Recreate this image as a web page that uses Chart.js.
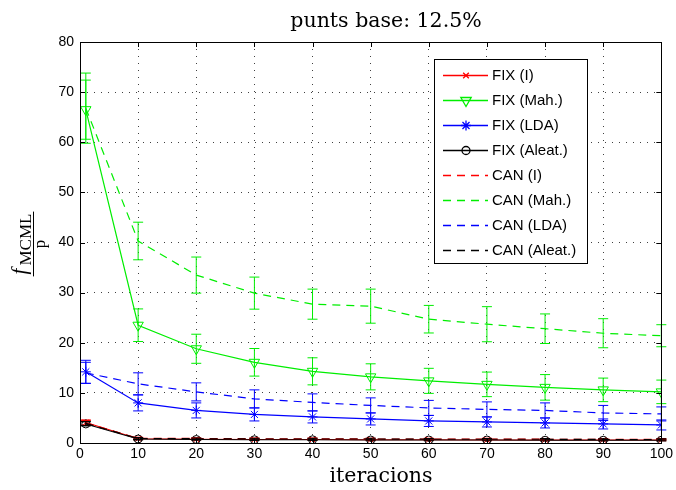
<!DOCTYPE html>
<html>
<head>
<meta charset="utf-8">
<script src="https://cdn.jsdelivr.net/npm/chart.js@4.4.1/dist/chart.umd.min.js"></script>
<style>
    body { margin: 0; background: #fff; }
    #wrap { width: 676px; height: 490px; position: relative; }
</style>
</head>
<body>
<div id="wrap"><canvas id="chart"></canvas></div>
<script>
// iterations on the x axis
const iters = [1, 10, 20, 30, 40, 50, 60, 70, 80, 90, 100];
const xTicks = [0, 10, 20, 30, 40, 50, 60, 70, 80, 90, 100];
const yTicks = [0, 10, 20, 30, 40, 50, 60, 70, 80];

// series values (mean) and error (half bar)
const fixI = [4.1, 0.85, 0.75, 0.7, 0.7, 0.65, 0.65, 0.6, 0.6, 0.6, 0.6];
const fixIErr = [0.5, 0.2, 0.15, 0.15, 0.15, 0.15, 0.15, 0.15, 0.15, 0.15, 0.15];
const fixMah = [66.5, 23.5, 18.8, 16.1, 14.3, 13.2, 12.4, 11.7, 11.1, 10.6, 10.2];
const fixMahErr = [5.9, 3.25, 2.9, 2.75, 2.7, 2.6, 2.5, 2.45, 2.55, 2.35, 2.35];
const fixLDA = [14.2, 8.0, 6.5, 5.7, 5.2, 4.8, 4.4, 4.2, 4.0, 3.8, 3.6];
const fixLDAErr = [2.3, 1.6, 1.5, 1.3, 1.2, 1.2, 1.1, 1.0, 1.0, 1.0, 1.0];
const fixAleat = [3.8, 0.8, 0.7, 0.65, 0.65, 0.6, 0.6, 0.6, 0.55, 0.55, 0.55];
const fixAleatErr = [0.4, 0.2, 0.15, 0.15, 0.15, 0.15, 0.15, 0.15, 0.15, 0.15, 0.15];
const canI = [4.0, 0.95, 0.9, 0.85, 0.85, 0.8, 0.8, 0.8, 0.75, 0.75, 0.75];
const canIErr = [0.5, 0.2, 0.15, 0.15, 0.15, 0.15, 0.15, 0.15, 0.15, 0.15, 0.15];
const canMah = [66.8, 40.3, 33.5, 29.9, 27.7, 27.3, 24.7, 23.7, 22.8, 21.9, 21.4];
const canMahErr = [7.0, 3.75, 3.6, 3.2, 3.0, 3.4, 2.75, 3.5, 2.95, 2.9, 2.2];
const canLDA = [14.0, 11.8, 10.2, 8.8, 8.1, 7.5, 7.0, 6.7, 6.5, 6.0, 5.8];
const canLDAErr = [2.1, 2.2, 1.8, 1.8, 1.7, 1.5, 1.5, 1.5, 1.5, 1.5, 1.4];
const canAleat = [3.9, 0.9, 0.85, 0.8, 0.8, 0.8, 0.75, 0.75, 0.75, 0.7, 0.7];
const canAleatErr = [0.4, 0.2, 0.15, 0.15, 0.15, 0.15, 0.15, 0.15, 0.15, 0.15, 0.15];

const series = [
    { label: 'FIX (I)', values: fixI, err: fixIErr, color: '#ff0000', dash: [], style: 'crossRot', radius: 4, rotation: 0 },
    { label: 'FIX (Mah.)', values: fixMah, err: fixMahErr, color: '#00ee00', dash: [], style: 'triangle', radius: 6, rotation: 180 },
    { label: 'FIX (LDA)', values: fixLDA, err: fixLDAErr, color: '#0000ff', dash: [], style: 'star', radius: 5, rotation: 0 },
    { label: 'FIX (Aleat.)', values: fixAleat, err: fixAleatErr, color: '#000000', dash: [], style: 'circle', radius: 4, rotation: 0 },
    { label: 'CAN (I)', values: canI, err: canIErr, color: '#ff0000', dash: [8, 6], style: false, radius: 0, rotation: 0 },
    { label: 'CAN (Mah.)', values: canMah, err: canMahErr, color: '#00ee00', dash: [8, 6], style: false, radius: 0, rotation: 0 },
    { label: 'CAN (LDA)', values: canLDA, err: canLDAErr, color: '#0000ff', dash: [8, 6], style: false, radius: 0, rotation: 0 },
    { label: 'CAN (Aleat.)', values: canAleat, err: canAleatErr, color: '#000000', dash: [8, 6], style: false, radius: 0, rotation: 0 }
];

// error bars drawn right after each dataset
const errorBars = {
    id: 'errorBars',
    afterDatasetDraw(chart, args) {
        const s = series[args.index];
        const ctx = chart.ctx;
        const xs = chart.scales.x, ys = chart.scales.y;
        ctx.save();
        ctx.strokeStyle = s.color;
        ctx.lineWidth = 1;
        s.values.forEach((v, i) => {
            const px = xs.getPixelForValue(iters[i]);
            const top = ys.getPixelForValue(v + s.err[i]);
            const bot = ys.getPixelForValue(v - s.err[i]);
            ctx.beginPath();
            ctx.moveTo(px, top); ctx.lineTo(px, bot);
            ctx.moveTo(px - 5, top); ctx.lineTo(px + 5, top);
            ctx.moveTo(px - 5, bot); ctx.lineTo(px + 5, bot);
            ctx.stroke();
        });
        ctx.restore();
    }
};

// box, inner ticks, titles and legend in matlab style
const decorations = {
    id: 'decorations',
    afterDraw(chart) {
        const ctx = chart.ctx;
        const a = chart.chartArea;
        const xs = chart.scales.x, ys = chart.scales.y;
        ctx.save();

        ctx.strokeStyle = '#000';
        ctx.lineWidth = 1;
        ctx.beginPath();
        xTicks.forEach(t => {
            const px = Math.round(xs.getPixelForValue(t)) + 0.5;
            ctx.moveTo(px, a.bottom); ctx.lineTo(px, a.bottom - 5);
            ctx.moveTo(px, a.top); ctx.lineTo(px, a.top + 5);
        });
        yTicks.forEach(t => {
            const py = Math.round(ys.getPixelForValue(t)) + 0.5;
            ctx.moveTo(a.left, py); ctx.lineTo(a.left + 5, py);
            ctx.moveTo(a.right, py); ctx.lineTo(a.right - 5, py);
        });
        ctx.stroke();
        ctx.strokeRect(Math.round(a.left) + 0.5, Math.round(a.top) + 0.5, Math.round(a.right - a.left), Math.round(a.bottom - a.top));

        // title and x label
        ctx.fillStyle = '#000';
        ctx.textAlign = 'center';
        ctx.textBaseline = 'alphabetic';
        ctx.font = '20.5px "DejaVu Serif"';
        ctx.fillText('punts base: 12.5%', 386, 27);
        ctx.fillText('iteracions', 381, 482);

        // y label: f_MCML / p
        ctx.save();
        ctx.translate(33, 244);
        ctx.rotate(-Math.PI / 2);
        ctx.font = 'italic 21px "Liberation Serif"';
        const wf = ctx.measureText('f').width;
        ctx.font = '17px "Liberation Serif"';
        const wm = ctx.measureText('MCML').width;
        const w = wf + wm + 3;
        ctx.textAlign = 'left';
        ctx.font = 'italic 21px "Liberation Serif"';
        ctx.fillText('f', -w / 2, -7);
        ctx.font = '17px "Liberation Serif"';
        ctx.fillText('MCML', -w / 2 + wf + 3, -2);
        ctx.beginPath();
        ctx.moveTo(-w / 2 - 2, 0.5); ctx.lineTo(w / 2 + 2, 0.5);
        ctx.stroke();
        ctx.textAlign = 'center';
        ctx.font = '17px "Liberation Serif"';
        ctx.fillText('p', 0, 12);
        ctx.restore();

        // legend
        const lx = 434, ly = 59, lw = 153, lh = 204;
        ctx.fillStyle = '#fff';
        ctx.fillRect(lx, ly, lw, lh);
        ctx.strokeStyle = '#000';
        ctx.strokeRect(lx + 0.5, ly + 0.5, lw, lh);
        ctx.font = '15px "Liberation Sans"';
        ctx.textAlign = 'left';
        ctx.textBaseline = 'middle';
        series.forEach((s, i) => {
            const y = ly + 16 + i * 25;
            ctx.strokeStyle = s.color;
            ctx.lineWidth = 1.3;
            ctx.setLineDash(s.dash);
            ctx.beginPath();
            ctx.moveTo(443, y + 0.5); ctx.lineTo(488, y + 0.5);
            ctx.stroke();
            ctx.setLineDash([]);
            if (s.style) {
                ctx.fillStyle = 'rgba(0,0,0,0)';
                Chart.helpers.drawPoint(ctx, { pointStyle: s.style, radius: s.radius, rotation: s.rotation, borderWidth: 1 }, 466, y + 0.5);
            }
            ctx.fillStyle = '#000';
            ctx.fillText(s.label, 492, y + 1);
        });
        ctx.restore();
    }
};

const datasets = series.map((s, i) => ({
    label: s.label,
    data: iters.map((x, j) => ({ x: x, y: s.values[j] })),
    borderColor: s.color,
    backgroundColor: 'rgba(0,0,0,0)',
    borderWidth: 1.2,
    borderDash: s.dash,
    pointStyle: s.style,
    pointRadius: s.radius,
    pointRotation: s.rotation,
    pointBorderColor: s.color,
    pointBackgroundColor: 'rgba(0,0,0,0)',
    pointBorderWidth: 1,
    tension: 0,
    fill: false,
    order: series.length - i
}));

const tickFont = { family: 'Liberation Sans', size: 14 };

new Chart(document.getElementById('chart'), {
    type: 'line',
    data: { datasets: datasets },
    options: {
        responsive: true,
        maintainAspectRatio: false,
        animation: false,
        layout: { padding: { top: 42, right: 11, left: 0, bottom: 0 } },
        plugins: {
            legend: { display: false },
            title: { display: false },
            tooltip: { enabled: false }
        },
        scales: {
            x: {
                type: 'linear',
                min: 0,
                max: 100,
                afterFit: scale => { scale.height = 47; },
                afterBuildTicks: scale => { scale.ticks = xTicks.map(v => ({ value: v })); },
                ticks: { color: '#000', font: tickFont, padding: 3, maxRotation: 0 },
                grid: { color: 'rgba(0,0,0,0.75)', lineWidth: 1, drawTicks: false },
                border: { display: false, dash: [1, 6] }
            },
            y: {
                min: 0,
                max: 80,
                afterFit: scale => { scale.width = 80; },
                afterBuildTicks: scale => { scale.ticks = yTicks.map(v => ({ value: v })); },
                ticks: { color: '#000', font: tickFont, padding: 6 },
                grid: { color: 'rgba(0,0,0,0.75)', lineWidth: 1, drawTicks: false },
                border: { display: false, dash: [1, 6] }
            }
        }
    },
    plugins: [errorBars, decorations]
});
</script>
</body>
</html>
